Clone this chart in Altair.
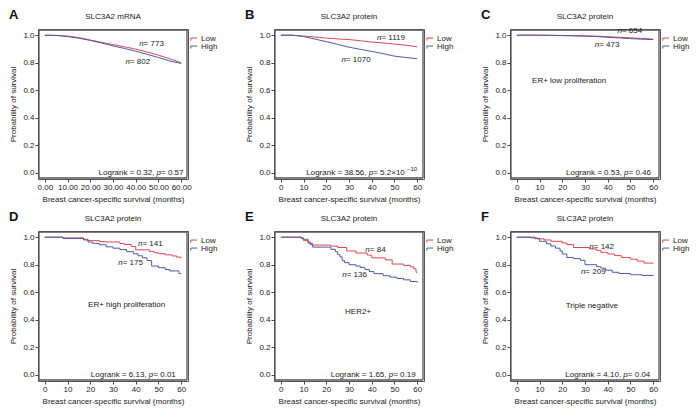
import altair as alt
import pandas as pd

FONT = "Liberation Sans"
RED = "#e0474f"
BLUE = "#4a5cab"
TXT = "#222222"
FRAME = "#555555"
GROUPS = ["Low", "High"]
XTITLE = "Breast cancer-specific survival (months)"
YTITLE = "Probability of survival"

panel_letters = ["A", "B", "C", "D", "E", "F"]
panel_titles = ["SLC3A2 mRNA", "SLC3A2 protein", "SLC3A2 protein",
                "SLC3A2 protein", "SLC3A2 protein", "SLC3A2 protein"]
subgroup_labels = ["", "", "ER+ low proliferation", "ER+ high proliferation",
                   "HER2+", "Triple negative"]
n_low = [773, 1119, 654, 141, 84, 142]
n_high = [802, 1070, 473, 175, 136, 209]
logrank_vals = ["0.32", "38.56", "0.53", "6.13", "1.65", "4.10"]
p_vals = ["0.57", "5.2×10", "0.46", "0.01", "0.19", "0.04"]
p_exps = ["", "−10", "", "", "", ""]
x_ticks = [0, 10, 20, 30, 40, 50, 60]
y_ticks = [0.0, 0.2, 0.4, 0.6, 0.8, 1.0]

# ---- survival curves ----
A_t = [0, 5, 10, 15, 20, 25, 30, 35, 40, 45, 50, 55, 60]
A_low = [1.0, 0.998, 0.994, 0.983, 0.965, 0.948, 0.932, 0.916, 0.899, 0.878, 0.855, 0.828, 0.800]
A_high = [1.0, 0.998, 0.990, 0.978, 0.962, 0.943, 0.922, 0.904, 0.884, 0.861, 0.838, 0.812, 0.795]

B_t = [0, 5, 10, 15, 20, 25, 30, 35, 40, 45, 50, 55, 60]
B_low = [1.0, 1.0, 0.994, 0.987, 0.979, 0.973, 0.968, 0.960, 0.950, 0.944, 0.935, 0.927, 0.916]
B_high = [1.0, 1.0, 0.990, 0.972, 0.953, 0.933, 0.913, 0.897, 0.882, 0.866, 0.848, 0.838, 0.829]

C_t = [0, 10, 20, 25, 30, 35, 40, 45, 50, 55, 60]
C_low = [1.0, 1.0, 0.998, 0.997, 0.995, 0.993, 0.989, 0.985, 0.981, 0.976, 0.972]
C_high = [1.0, 1.0, 0.997, 0.995, 0.993, 0.990, 0.985, 0.980, 0.975, 0.971, 0.968]

D_low_t = [0, 8, 17, 19, 24, 27, 33, 35, 38, 40, 46, 48, 50, 53, 56, 58, 60]
D_low_s = [1.0, 0.995, 0.985, 0.975, 0.968, 0.965, 0.955, 0.947, 0.932, 0.908, 0.897, 0.888, 0.880, 0.872, 0.864, 0.855, 0.846]
D_high_t = [0, 8, 17, 19, 21, 24, 27, 30, 33, 36, 39, 41, 43, 45, 47, 50, 53, 55, 59, 60]
D_high_s = [1.0, 0.990, 0.980, 0.965, 0.955, 0.945, 0.930, 0.920, 0.910, 0.895, 0.880, 0.865, 0.850, 0.830, 0.790, 0.778, 0.765, 0.755, 0.735, 0.735]

E_low_t = [0, 9, 10, 12, 14, 22, 25, 29, 33, 38, 40, 46, 49, 54, 57, 58.5, 59.5, 60]
E_low_s = [1.0, 0.990, 0.975, 0.955, 0.943, 0.935, 0.925, 0.900, 0.885, 0.870, 0.850, 0.835, 0.805, 0.795, 0.785, 0.770, 0.745, 0.745]
E_high_t = [0, 9, 10, 12, 13, 14, 22, 24, 25, 26, 27, 28, 30, 33, 35, 37, 39, 41, 45, 48, 51, 54, 57, 60]
E_high_s = [1.0, 0.995, 0.985, 0.965, 0.945, 0.928, 0.912, 0.895, 0.875, 0.857, 0.830, 0.815, 0.800, 0.790, 0.780, 0.765, 0.750, 0.735, 0.720, 0.710, 0.700, 0.690, 0.678, 0.670]

F_low_t = [0, 6, 9, 12, 15, 20, 22, 25, 32, 35, 37, 40, 43, 46, 50, 53, 56, 60]
F_low_s = [1.0, 0.995, 0.988, 0.980, 0.970, 0.958, 0.946, 0.925, 0.915, 0.905, 0.890, 0.878, 0.866, 0.852, 0.840, 0.826, 0.812, 0.809]
F_high_t = [0, 8, 10, 13, 15, 17, 19, 20, 22, 25, 28, 30, 35, 37, 39, 42, 45, 50, 55, 60]
F_high_s = [1.0, 0.990, 0.970, 0.952, 0.936, 0.920, 0.900, 0.878, 0.852, 0.844, 0.832, 0.800, 0.786, 0.775, 0.760, 0.745, 0.736, 0.727, 0.722, 0.717]

curves = [
    ((A_t, A_low), (A_t, A_high), "linear"),
    ((B_t, B_low), (B_t, B_high), "linear"),
    ((C_t, C_low), (C_t, C_high), "linear"),
    ((D_low_t, D_low_s), (D_high_t, D_high_s), "step-after"),
    ((E_low_t, E_low_s), (E_high_t, E_high_s), "step-after"),
    ((F_low_t, F_low_s), (F_high_t, F_high_s), "step-after"),
]

# ---- annotation placement (data coordinates) ----
n_low_pos = [(41.5, 0.935), (42.3, 0.983), (44.3, 1.027), (41.0, 0.949), (37.2, 0.907), (31.9, 0.929)]
n_high_pos = [(35.5, 0.807), (26.7, 0.822), (34.3, 0.927), (32.3, 0.810), (27.0, 0.726), (28.2, 0.746)]
sub_pos = [None, None, (23, 0.667), (36, 0.509), (34, 0.454), (33, 0.503)]
logrank_pos = [(62.0, 0.0), (60.0, 0.0), (60.0, 0.0), (58.6, 0.0), (60.3, 0.0), (59.7, 0.0)]

W_PLOT, H_PLOT = 150, 150
X_DOMAIN = [-3, 63]
Y_DOMAIN = [-0.045, 1.045]
XS = alt.Scale(domain=X_DOMAIN, nice=False, zero=False)
YS = alt.Scale(domain=Y_DOMAIN, nice=False, zero=False)
# frame drawn one pixel inside the plotting region
X_IN = (X_DOMAIN[1] - X_DOMAIN[0]) / W_PLOT
Y_IN = (Y_DOMAIN[1] - Y_DOMAIN[0]) / H_PLOT

CW = {c: 556 for c in "0123456789"}
CW.update({'.': 278, ',': 278, ' ': 278, '=': 584, 'L': 556, 'o': 556, 'g': 556,
           'r': 333, 'a': 556, 'n': 556, 'k': 500, 'p': 556, '×': 584, '−': 584})


def tw(s, size):
    return sum(CW.get(c, 556) for c in s) * size / 1000.0


def xenc(field, fmt):
    return alt.X(field, type="quantitative", scale=XS, title=XTITLE,
                 axis=alt.Axis(values=x_ticks, format=fmt, labelOverlap=False,
                               labelFlush=False))


def yenc(field):
    return alt.Y(field, type="quantitative", scale=YS, title=YTITLE,
                 axis=alt.Axis(values=y_ticks, format=".1f", labelOverlap=False,
                               labelFlush=False))


def text_run(pieces, x, y, anchor, fmt, size=8):
    sizes = [6 if st == "sup" else size for _, st in pieces]
    widths = [tw(t, s) for (t, _), s in zip(pieces, sizes)]
    off = 0.0 if anchor == "left" else -sum(widths)
    layers = []
    for (t, st), s, w in zip(pieces, sizes, widths):
        df = pd.DataFrame({"x": [x], "y": [y], "t": [t]})
        layers.append(
            alt.Chart(df).mark_text(
                align="left", baseline="middle", dx=off,
                dy=-3.5 if st == "sup" else 0, fontSize=s, font=FONT,
                fontStyle="italic" if st == "italic" else "normal", color=TXT
            ).encode(x=xenc("x", fmt), y=yenc("y"), text="t:N")
        )
        off += w
    return layers


def panel(i):
    fmt = ".2f" if i == 0 else "d"
    (lt, ls), (ht, hs), interp = curves[i]
    df = pd.concat([
        pd.DataFrame({"time": lt, "surv": ls, "group": "Low"}),
        pd.DataFrame({"time": ht, "surv": hs, "group": "High"}),
    ])
    # plot frame: four rules just inside the plotting region
    hdf = pd.DataFrame({"x0": [X_DOMAIN[0] + X_IN] * 2, "x1": [X_DOMAIN[1] - X_IN] * 2,
                        "y": [Y_DOMAIN[0] + Y_IN, Y_DOMAIN[1] - Y_IN]})
    vdf = pd.DataFrame({"x": [X_DOMAIN[0] + X_IN, X_DOMAIN[1] - X_IN],
                        "y0": [Y_DOMAIN[0] + Y_IN] * 2, "y1": [Y_DOMAIN[1] - Y_IN] * 2})
    frame_h = alt.Chart(hdf).mark_rule(color=FRAME, strokeWidth=1.3).encode(
        x=xenc("x0", fmt), x2="x1:Q", y=yenc("y"))
    frame_v = alt.Chart(vdf).mark_rule(color=FRAME, strokeWidth=1.3).encode(
        x=xenc("x", fmt), y=yenc("y0"), y2="y1:Q")
    lines = alt.Chart(df).mark_line(interpolate=interp, strokeWidth=1).encode(
        x=xenc("time", fmt),
        y=yenc("surv"),
        color=alt.Color("group:N", scale=alt.Scale(domain=GROUPS, range=[RED, BLUE]),
                        legend=alt.Legend(title=None, orient="none",
                                          legendX=W_PLOT + 2, legendY=6,
                                          labelFont=FONT, labelFontSize=8,
                                          labelColor=TXT, labelOffset=3,
                                          symbolType="M-1,0.5L-1,-0.3L1,-0.3",
                                          symbolSize=40, symbolStrokeWidth=1,
                                          rowPadding=0, padding=0)),
        detail="group:N",
    )
    layers = [frame_h, frame_v, lines]
    layers += text_run([("n", "italic"), (f" = {n_low[i]}", "normal")], *n_low_pos[i], "left", fmt)
    layers += text_run([("n", "italic"), (f" = {n_high[i]}", "normal")], *n_high_pos[i], "left", fmt)
    lr = [(f"Logrank = {logrank_vals[i]}, ", "normal"), ("p", "italic"),
          (f" = {p_vals[i]}", "normal")]
    if p_exps[i]:
        lr.append((p_exps[i], "sup"))
    layers += text_run(lr, *logrank_pos[i], "right", fmt)
    if sub_pos[i] is not None:
        sdf = pd.DataFrame({"x": [sub_pos[i][0]], "y": [sub_pos[i][1]], "t": [subgroup_labels[i]]})
        layers.append(alt.Chart(sdf).mark_text(align="center", baseline="middle",
                                               fontSize=8, font=FONT, color=TXT)
                      .encode(x=xenc("x", fmt), y=yenc("y"), text="t:N"))
    # panel letter and panel title, drawn as text marks above the plot box
    ldf = pd.DataFrame({"t": [panel_letters[i]]})
    layers.append(alt.Chart(ldf).mark_text(align="left", baseline="middle", fontSize=13,
                                           fontWeight="bold", font=FONT, color="#111")
                  .encode(x=alt.value(-29), y=alt.value(-14), text="t:N"))
    tdf = pd.DataFrame({"t": [panel_titles[i]]})
    layers.append(alt.Chart(tdf).mark_text(align="center", baseline="middle", fontSize=8,
                                           font=FONT, color=TXT)
                  .encode(x=alt.value(W_PLOT / 2), y=alt.value(-12), text="t:N"))
    return alt.layer(*layers).properties(width=W_PLOT, height=H_PLOT)


chart = alt.concat(*[panel(i) for i in range(6)], columns=3,
                   spacing=alt.RowColnumber(row=6, column=25))
chart = chart.resolve_scale(color="independent").resolve_legend(color="independent")
chart = chart.properties(padding=0).configure_view(
    stroke=FRAME, strokeWidth=1
).configure_axis(
    labelFont=FONT, titleFont=FONT, labelFontSize=8, titleFontSize=8,
    titleFontWeight="normal", labelColor=TXT, titleColor=TXT, tickColor="#444444",
    tickSize=3, labelPadding=1, domain=False, grid=False
).configure_axisY(titlePadding=5).configure_axisX(titlePadding=4)

chart.save("out.html", embed_options={"renderer": "svg", "actions": False})
